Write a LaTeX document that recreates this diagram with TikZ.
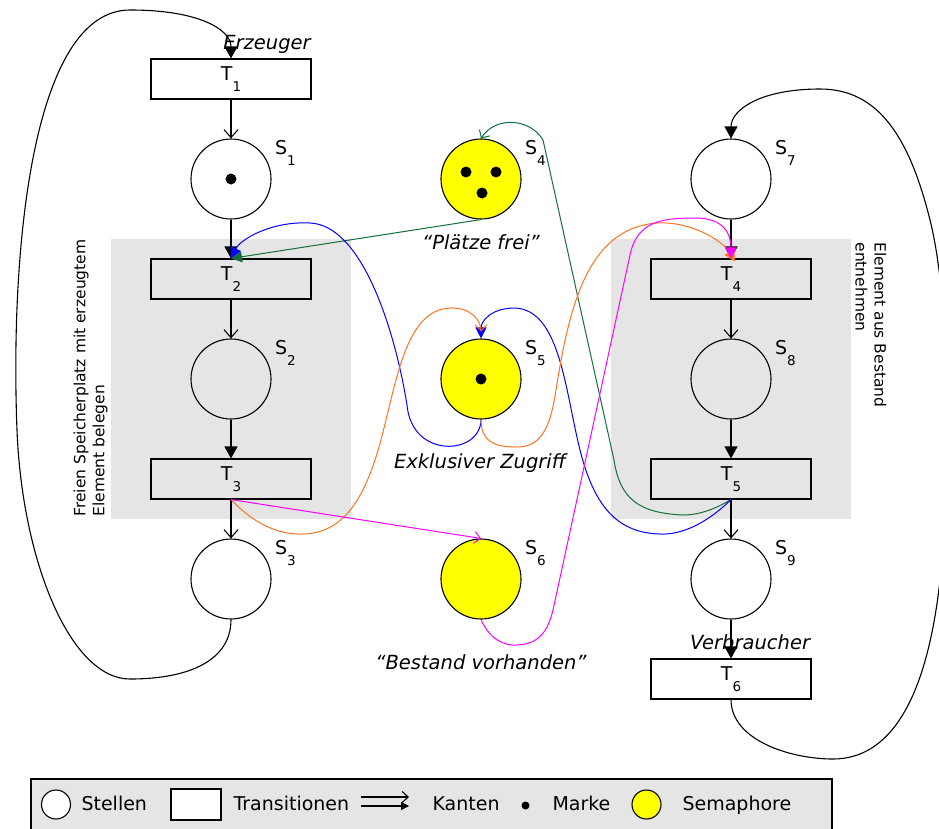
\documentclass[tikz,border=0pt]{standalone}
\usepackage{fontspec}
\setmainfont{DejaVu Sans}
\usetikzlibrary{arrows.meta}
\definecolor{kastengrau}{RGB}{229,229,229}
\definecolor{semgelb}{RGB}{255,255,0}
\definecolor{kantegruen}{RGB}{20,110,60}
\definecolor{kanteorange}{RGB}{255,115,30}
\definecolor{kantepink}{RGB}{255,0,255}
\definecolor{kanteblau}{RGB}{0,0,255}
\newcommand{\idx}[1]{\raisebox{-11pt}{\fontsize{13.5}{14}\selectfont #1}}

\begin{document}
\begin{tikzpicture}[x=1pt,y=-1pt,line width=1.1pt,
  font=\fontsize{19}{22}\selectfont,
  stelle/.style={draw,circle,minimum size=80pt,inner sep=0pt},
  semaphor/.style={stelle,fill=semgelb},
  transbox/.style={draw,minimum width=160pt,minimum height=40pt,inner sep=0pt},
  marke/.style={circle,fill=black,minimum size=11pt,inner sep=0pt},
  bez/.style={inner sep=0pt,anchor=base west},
  hinweis/.style={inner sep=0pt,anchor=base,font=\fontsize{19.5}{22}\selectfont\itshape},
  drehtext/.style={anchor=north west,align=left,inner sep=0pt,font=\fontsize{15.5}{19}\selectfont},
  pfeilvoll/.style={-{Triangle[length=12pt,width=13pt]}},
  pfeiloffen/.style={-{Straight Barb[length=8pt,width=14pt]}},
  kleinvoll/.style={-{Triangle[length=11pt,width=11pt]}},
  kleinoffen/.style={-{Straight Barb[length=6pt,width=12pt]}},
  kante/.style={line width=1pt}]
  \useasboundingbox (0,0) rectangle (939,828);
  % Bereiche
  \fill[kastengrau] (111,239) rectangle (351,519);
  \fill[kastengrau] (611,239) rectangle (851,519);

  % Erzeuger
  \node[transbox] (T1) at (231,79) {T\idx{1}};
  \node[stelle] (S1) at (231,179) {};
  \node[transbox] (T2) at (231,279) {T\idx{2}};
  \node[stelle] (S2) at (231,379) {};
  \node[transbox] (T3) at (231,479) {T\idx{3}};
  \node[stelle] (S3) at (231,579) {};
  % Semaphore
  \node[semaphor] (S4) at (481,179) {};
  \node[semaphor] (S5) at (481,379) {};
  \node[semaphor] (S6) at (481,579) {};
  % Verbraucher
  \node[stelle] (S7) at (731,179) {};
  \node[transbox] (T4) at (731,279) {T\idx{4}};
  \node[stelle] (S8) at (731,379) {};
  \node[transbox] (T5) at (731,479) {T\idx{5}};
  \node[stelle] (S9) at (731,579) {};
  \node[transbox] (T6) at (731,679) {T\idx{6}};

  \foreach \s in {1,...,9}
    \node[bez] (lS\s) at ([shift={(43.5,-25)}]S\s.center) {S\idx{\s}};

  % Marken
  \node[marke] (m1) at (S1) {};
  \node[marke] (m2) at (466,172) {};
  \node[marke] (m3) at (496,172) {};
  \node[marke] (m4) at (482,193) {};
  \node[marke] (m5) at (S5) {};

  % Kanten
  \draw[pfeiloffen] (T1) -- (S1);
  \draw[pfeilvoll] (S1) -- (T2);
  \draw[pfeiloffen] (T2) -- (S2);
  \draw[pfeilvoll] (S2) -- (T3);
  \draw[pfeiloffen] (T3) -- (S3);
  \draw[pfeilvoll] (S7) -- (T4);
  \draw[pfeiloffen] (T4) -- (S8);
  \draw[pfeilvoll] (S8) -- (T5);
  \draw[pfeiloffen] (T5) -- (S9);
  \draw[pfeilvoll] (S9) -- (T6);
  \draw[pfeilvoll] (S3.south) .. controls (231,660) and (190,679) .. (130,679)
    .. controls (70,679) and (22,560) .. (17,430)
    .. controls (10,250) and (32,10) .. (130,10)
    .. controls (200,10) and (231,30) .. (T1.north);
  \draw[pfeilvoll] (T6.south) .. controls (731,740) and (790,759) .. (833,759)
    .. controls (890,759) and (930,700) .. (942,560)
    .. controls (950,450) and (950,300) .. (930,220)
    .. controls (910,140) and (880,89) .. (820,89)
    .. controls (760,89) and (731,110) .. (S7.north);

  % Semaphor-Kanten
  \draw[kante,kantegruen,kleinvoll] (S4.south) -- (T2.north);
  \draw[kante,kantegruen,kleinoffen] (T5.south) .. controls (710,512) and (695,515) .. (683,515)
    .. controls (640,513) and (620,500) .. (614,460) -- (543,140)
    .. controls (530,118) and (495,116) .. (S4.north);
  \draw[kante,kanteblau,kleinvoll] (S5.south) .. controls (481,455) and (412,460) .. (407,405)
    .. controls (395,330) and (362,225) .. (310,223)
    .. controls (270,221) and (240,240) .. (T2.north);
  \draw[kante,kanteblau,kleinvoll] (T5.south) .. controls (705,525) and (680,535) .. (660,534)
    .. controls (620,533) and (595,510) .. (580,450)
    .. controls (565,390) and (560,310) .. (515,308)
    .. controls (490,308) and (481,322) .. (S5.north);
  \draw[kante,kanteorange,kleinoffen,shorten >=7pt] (T3.south) .. controls (255,525) and (280,535) .. (303,534)
    .. controls (340,533) and (360,505) .. (375,460)
    .. controls (395,400) and (400,310) .. (450,308)
    .. controls (470,307) and (481,320) .. (S5.north);
  \draw[kante,kanteorange,kleinvoll] (S5.south) .. controls (481,445) and (500,447) .. (517,447)
    .. controls (540,447) and (550,430) .. (556,390)
    .. controls (570,300) and (590,228) .. (657,223)
    .. controls (690,221) and (722,240) .. ([shift={(4,3)}]T4.north);
  \draw[kante,kantepink,kleinoffen] (T3.south) -- (S6.north);
  \draw[kante,kantepink,kleinvoll] (S6.south) .. controls (490,640) and (505,646) .. (517,645)
    .. controls (540,644) and (548,630) .. (553,610) -- (630,255)
    .. controls (637,222) and (660,218) .. (695,218)
    .. controls (725,218) and (731,235) .. (T4.north);

  % Beschriftung
  \node[hinweis] (erz) at (267,49) {Erzeuger};
  \node[hinweis] (plf) at (481,249) {“Plätze frei”};
  \node[hinweis] (exz) at (480,468) {Exklusiver Zugriff};
  \node[hinweis] (bev) at (481,669) {“Bestand vorhanden”};
  \node[hinweis] (vbr) at (750,649) {Verbraucher};
  \node[drehtext,rotate=90] (links) at (73,517) {Freien Speicherplatz mit erzeugtem\\Element belegen};
  \node[drehtext,rotate=-90] (rechts) at (887,242) {Element aus Bestand\\entnehmen};

  % Legende
  \draw[fill=kastengrau] (31,779) rectangle (832,840);
  \node[stelle,fill=white,minimum size=29pt] (lgS) at (56,804.5) {};
  \node[bez] (lgSt) at (81,810) {Stellen};
  \node[draw,fill=white,minimum width=50pt,minimum height=31pt,inner sep=0pt] (lgT) at (196,804.5) {};
  \node[bez] (lgTt) at (233,810) {Transitionen};
  \coordinate (lgKa) at (361,797);
  \coordinate (lgKb) at (409,797);
  \coordinate (lgKc) at (361,806);
  \coordinate (lgKd) at (409,806);
  \draw[-{Straight Barb[length=6pt,width=11pt]}] (lgKa) -- (lgKb);
  \draw[-{Triangle[length=8pt,width=8pt]}] (lgKc) -- (lgKd);
  \node[bez] (lgKt) at (432,810) {Kanten};
  \node[marke,minimum size=8pt] (lgM) at (525.5,805.5) {};
  \node[bez] (lgMt) at (552,810) {Marke};
  \node[semaphor,minimum size=29pt] (lgSem) at (646.5,804.5) {};
  \node[bez] (lgSemt) at (682,810) {Semaphore};
\end{tikzpicture}
\end{document}
